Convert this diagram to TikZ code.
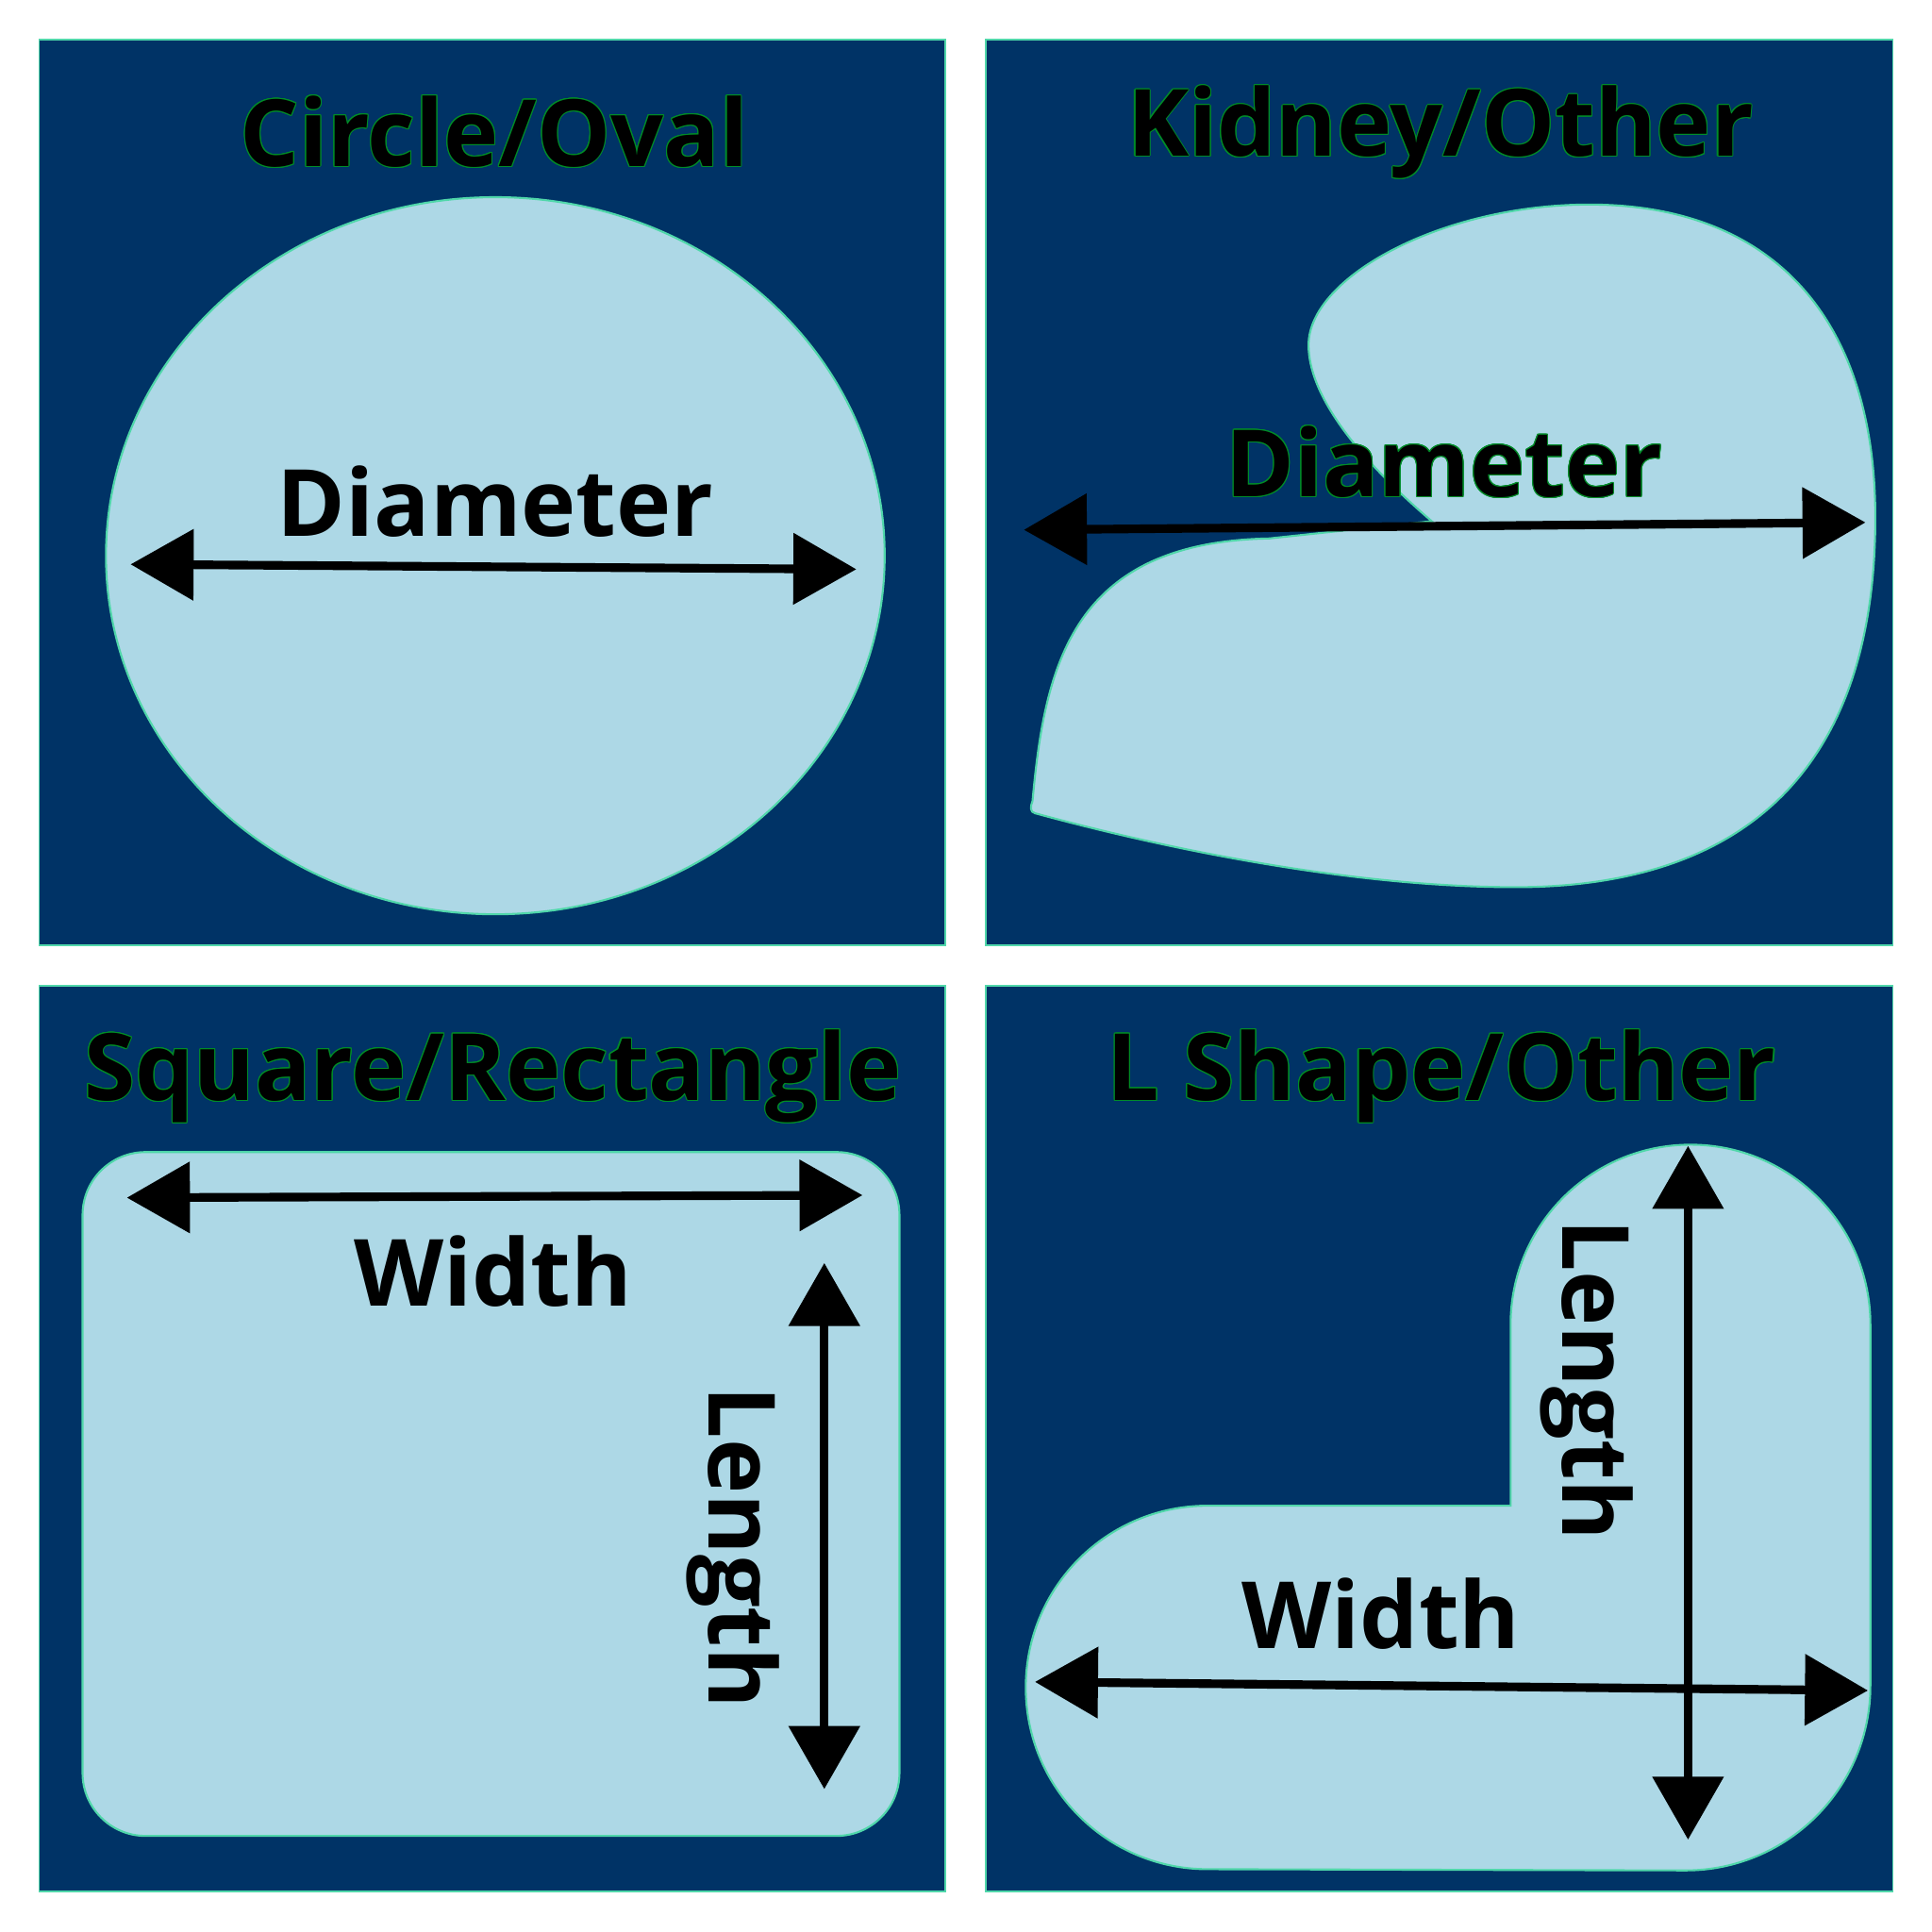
\documentclass[tikz,border=0pt]{standalone}
\usepackage{fontspec}
\setmainfont{Open Sans}
\usepackage{contour}
\contourlength{0.3pt}
\usetikzlibrary{arrows.meta}
\definecolor{panelnavy}{RGB}{0,51,102}
\definecolor{poolblue}{RGB}{173,216,230}
\definecolor{rimgreen}{RGB}{80,215,170}
\definecolor{titlegreen}{RGB}{0,140,40}

\begin{document}
\begin{tikzpicture}[
  x=0.013061cm, y=0.013061cm,
  panel/.style={fill=panelnavy, draw=rimgreen, line width=0.4pt},
  pool/.style={fill=poolblue, draw=rimgreen, line width=0.6pt},
  paneltitle/.style={font=\fontsize{28}{34}\selectfont\bfseries,
    inner sep=0pt, anchor=base},
  dimtext/.style={font=\fontsize{28}{34}\selectfont\bfseries,
    inner sep=0pt, anchor=base},
  measure/.style={line width=2.6pt,
    {Triangle[length=19pt,width=21pt]}-{Triangle[length=19pt,width=21pt]}}
]
\useasboundingbox (0,0) rectangle (1568,-1568);
\fill[white] (0,0) rectangle (1568,-1568);

% panels
\path[panel] (32,-32) rectangle (767,-767);
\path[panel] (800,-32) rectangle (1536,-767);
\path[panel] (32,-800) rectangle (767,-1535);
\path[panel] (800,-800) rectangle (1536,-1535);

% circle / oval
\node[paneltitle] (circletitle) at (401,-135) {\contour{titlegreen}{Circle/Oval}};
\path[pool] (402,-451) ellipse [x radius=316, y radius=291];
\coordinate (circleL) at (106,-458);
\coordinate (circleR) at (695,-462);
\draw[measure] (circleL) -- (circleR);
\node[dimtext] (circlediam) at (402,-435) {Diameter};

% kidney / other
\node[paneltitle] (kidneytitle) at (1169,-127) {\contour{titlegreen}{Kidney/Other}};
\path[pool] (1162,-423) .. controls (1100,-370) and (1062,-320) .. (1062,-280)
  .. controls (1062,-225) and (1170,-166) .. (1290,-166)
  .. controls (1440,-166) and (1522,-260) .. (1522,-420)
  .. controls (1522,-620) and (1420,-720) .. (1230,-720)
  .. controls (1100,-720) and (950,-690) .. (840,-660)
  .. controls (836,-659) and (836,-655) .. (838,-650)
  .. controls (848,-540) and (870,-440) .. (1030,-437)
  -- cycle;
\coordinate (kidneyL) at (831,-430);
\coordinate (kidneyR) at (1514,-424);
\draw[measure] (kidneyL) -- (kidneyR);
\node[dimtext] (kidneydiam) at (1172,-403) {\contour{titlegreen}{Diameter}};

% square / rectangle
\node[paneltitle] (squaretitle) at (400,-893) {\contour{titlegreen}{Square/Rectangle}};
\path[pool, rounded corners=19pt] (67,-935) rectangle (730,-1490);
\coordinate (squareL) at (103,-972);
\coordinate (squareR) at (700,-970);
\draw[measure] (squareL) -- (squareR);
\node[dimtext] (squarewidth) at (400,-1060) {Width};
\coordinate (squareT) at (669,-1025);
\coordinate (squareB) at (669,-1452);
\draw[measure] (squareT) -- (squareB);
\node[dimtext, rotate=-90] (squarelength) at (575,-1256) {Length};

% L shape / other
\node[paneltitle] (ltitle) at (1170,-893) {\contour{titlegreen}{L Shape/Other}};
\path[pool] (1226,-1222) -- (1226,-1075)
  arc [start angle=180, end angle=0, radius=146] -- (1518,-1368)
  arc [start angle=0, end angle=-90, radius=150] -- (980,-1517)
  arc [start angle=270, end angle=90, radius=147.5] -- cycle;
\coordinate (lshapeT) at (1370,-930);
\coordinate (lshapeB) at (1370,-1493);
\draw[measure] (lshapeT) -- (lshapeB);
\coordinate (lshapeL) at (840,-1365);
\coordinate (lshapeR) at (1516,-1372);
\draw[measure] (lshapeL) -- (lshapeR);
\node[dimtext] (lshapewidth) at (1121,-1338) {Width};
\node[dimtext, rotate=-90] (lshapelength) at (1268,-1120) {Length};
\end{tikzpicture}
\end{document}
